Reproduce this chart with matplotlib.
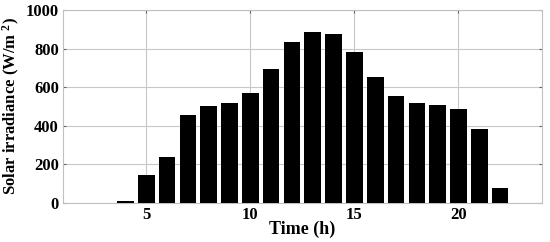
import numpy as np
import matplotlib
matplotlib.use('agg')
import matplotlib.pyplot as plt

hours = [4, 5, 6, 7, 8, 9, 10, 11, 12, 13, 14, 15, 16, 17, 18, 19, 20, 21, 22]
irradiance = [8, 147, 240, 454, 505, 518, 570, 696, 836, 884, 877, 782,
              655, 556, 520, 506, 489, 382, 80]
xticks = [5, 10, 15, 20]
yticks = [0, 200, 400, 600, 800, 1000]

plt.rcParams['font.family'] = 'Liberation Serif'
plt.rcParams['font.weight'] = 'bold'
plt.rcParams['mathtext.fontset'] = 'custom'
plt.rcParams['mathtext.rm'] = 'Liberation Serif:bold'
plt.rcParams['mathtext.default'] = 'rm'

fig = plt.figure(figsize=(5.5, 2.42), dpi=100)
ax = fig.add_axes([0.1145, 0.161, 0.8705, 0.798])

ax.bar(hours, irradiance, width=0.8, color='black', zorder=3)

ax.set_xlim(1, 24)
ax.set_ylim(0, 1000)
ax.set_xticks(xticks)
ax.set_yticks(yticks)
ax.grid(True, color='#c8c8c8', linewidth=0.8, zorder=0)
for s in ax.spines.values():
    s.set_color('#c0c0c0')
    s.set_linewidth(0.8)
ax.tick_params(direction='in', length=2, color='#606060', labelsize=12,
               right=True, top=True, pad=3)
for lab in ax.get_xticklabels() + ax.get_yticklabels():
    lab.set_fontweight('bold')

ax.set_xlabel('Time (h)', fontsize=13, fontweight='bold', labelpad=-2)
ax.set_ylabel('Solar irradiance (W/m$^{\\ 2}$)', fontsize=12, fontweight='bold', labelpad=3)

fig.savefig('out.png', dpi=100)
